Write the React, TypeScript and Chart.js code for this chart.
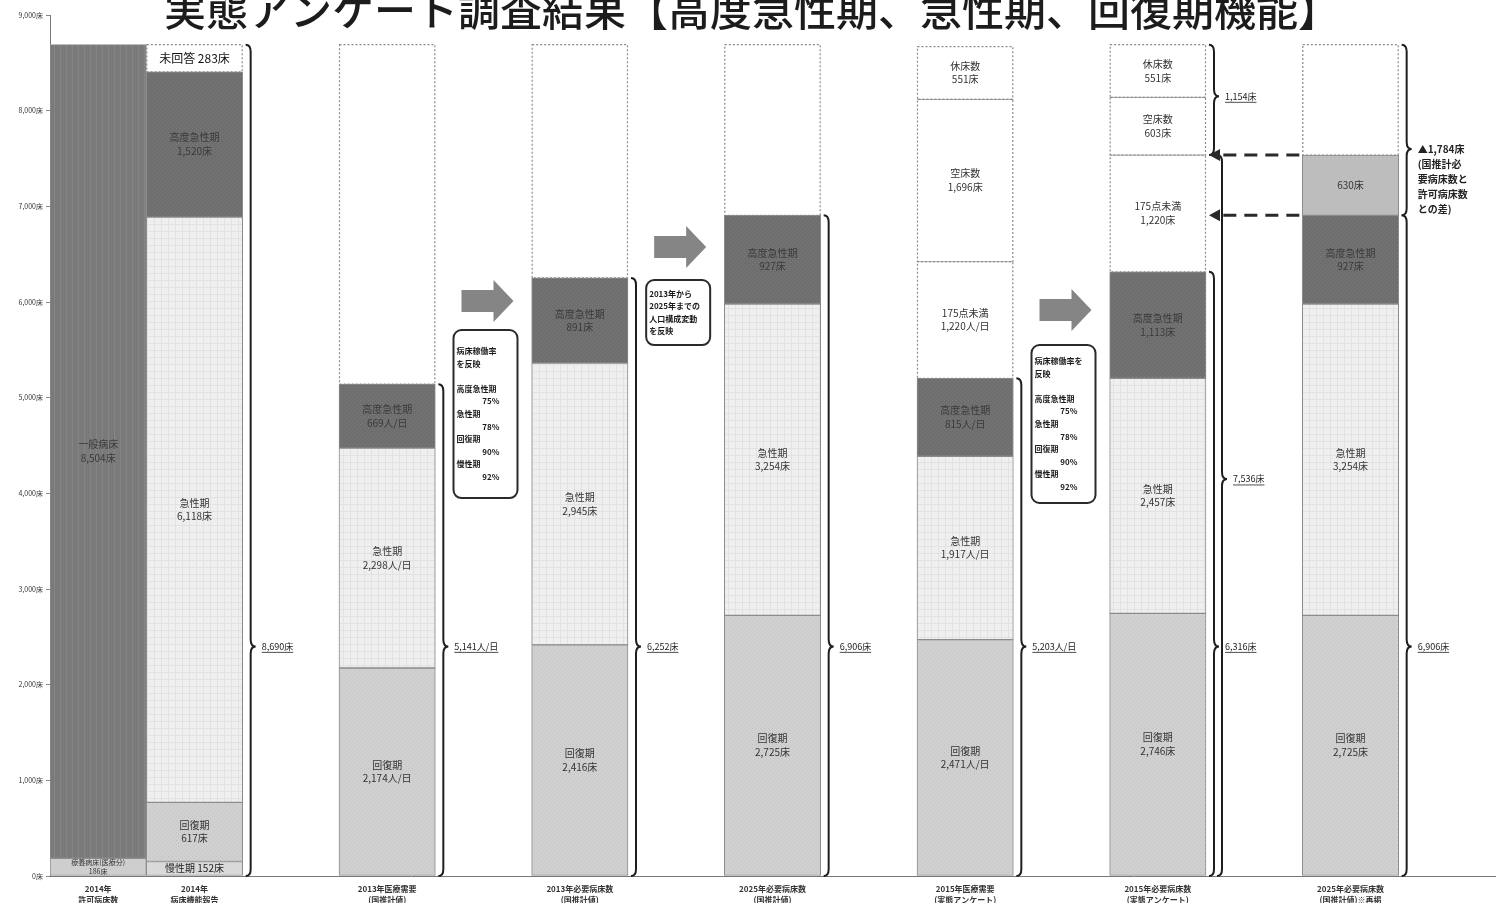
import React, { useEffect, useRef } from 'react';
import { Chart, registerables } from 'chart.js';

Chart.register(...registerables);

const FONT = '"Noto Sans CJK JP", "Noto Sans", sans-serif';

const title = '実態アンケート調査結果【高度急性期、急性期、回復期機能】';

const categories: string[][] = [
  ['2014年', '許可病床数'],
  ['2014年', '病床機能報告'],
  ['2013年医療需要', '(国推計値)'],
  ['2013年必要病床数', '(国推計値)'],
  ['2025年必要病床数', '(国推計値)'],
  ['2015年医療需要', '(実態アンケート)'],
  ['2015年必要病床数', '(実態アンケート)'],
  ['2025年必要病床数', '(国推計値)※再掲'],
];
const units = ['床', '床', '人/日', '床', '床', '人/日', '床', '床'];

const yMax = 9000;
const yStep = 1000;

// stacked segments, bottom to top
const ryoyoBeds = [186, null, null, null, null, null, null, null];
const ippanBeds = [8504, null, null, null, null, null, null, null];
const manseiBeds = [null, 152, null, null, null, null, null, null];
const kaifukuBeds = [null, 617, 2174, 2416, 2725, 2471, 2746, 2725];
const kyuseiBeds = [null, 6118, 2298, 2945, 3254, 1917, 2457, 3254];
const kodoBeds = [null, 1520, 669, 891, 927, 815, 1113, 927];
const diffBeds = [null, null, null, null, null, null, null, 630];
const under175 = [null, null, null, null, null, 1220, 1220, null];
const vacantBeds = [null, null, null, null, null, 1696, 603, null];
const closedBeds = [null, null, null, null, null, 551, 551, null];
const noAnswerBeds = [null, 283, null, null, null, null, null, null];
const remainderBeds = [null, null, 3549, 2438, 1784, null, null, 1154];

// braces (category, from, to, tip value, lane, label)
const braceCats = [1, 2, 3, 4, 5, 6, 6, 6, 7, 7];
const braceFrom = [0, 0, 0, 0, 0, 0, 0, 7536, 0, 6906];
const braceTo = [8690, 5141, 6252, 6906, 5203, 6316, 7536, 8690, 6906, 8690];
const braceTip = [2400, 2400, 2400, 2400, 2400, 2400, 4150, 8150, 2400, 7600];
const braceLanes = [0, 0, 0, 0, 0, 0, 1, 0, 0, 0];
const braceLabels = [
  '8,690床', '5,141人/日', '6,252床', '6,906床', '5,203人/日', '6,316床', '7,536床', '1,154床', '6,906床',
  '▲1,784床\n(国推計必\n要病床数と\n許可病床数\nとの差)',
];

const dashedLevels = [7536, 6906];

// block arrows & note boxes placed after category index
const arrowAfter = [2, 3, 5];
const arrowLevels = [6010, 6575, 5916];
const boxAfter = [2, 3, 5];
const boxTop = [5707, 6230, 5550];
const boxBottom = [3951, 5550, 3899];
const boxTexts = [
  ['病床稼働率', 'を反映', '', '高度急性期', '75%', '急性期', '78%', '回復期', '90%', '慢性期', '92%'],
  ['2013年から', '2025年までの', '人口構成変動', 'を反映'],
  ['病床稼働率を', '反映', '', '高度急性期', '75%', '急性期', '78%', '回復期', '90%', '慢性期', '92%'],
];

const fmt = (v: number) => v.toLocaleString('en-US');
const slotOf = (i: number) => (i < 2 ? i : 2 * i - 1);
function toSlots<T>(arr: T[], filler: T): T[] {
  const out: T[] = [];
  arr.forEach((v, i) => {
    if (i >= 2) out.push(filler);
    out.push(v);
  });
  out.push(filler);
  return out;
}

function makePattern(base: string, mark: string, size: number, kind: string) {
  const c = document.createElement('canvas');
  c.width = size;
  c.height = size;
  const g = c.getContext('2d')!;
  g.fillStyle = base;
  g.fillRect(0, 0, size, size);
  g.fillStyle = mark;
  if (kind === 'grid') {
    g.fillRect(0, 0, size, 1);
    g.fillRect(0, 0, 1, size);
  } else if (kind === 'dots') {
    g.fillRect(0, 0, 1, 1);
    g.fillRect(size / 2, size / 2, 1, 1);
  } else {
    g.fillRect(0, 0, 1, size);
  }
  return g.createPattern(c, 'repeat')!;
}

function drawBrace(ctx: CanvasRenderingContext2D, x: number, yTop: number, yBot: number, yTip: number, w: number) {
  const r = 7;
  const xm = x + w / 2;
  ctx.beginPath();
  ctx.moveTo(x, yTop);
  ctx.quadraticCurveTo(xm, yTop, xm, yTop + r);
  ctx.lineTo(xm, yTip - r);
  ctx.quadraticCurveTo(xm, yTip, x + w, yTip);
  ctx.quadraticCurveTo(xm, yTip, xm, yTip + r);
  ctx.lineTo(xm, yBot - r);
  ctx.quadraticCurveTo(xm, yBot, x, yBot);
  ctx.stroke();
}

export default function App() {
  const ref = useRef<HTMLCanvasElement>(null);

  useEffect(() => {
    const canvas = ref.current!;
    const patIppan = makePattern('#7a7a7a', '#858585', 6, 'vlines');
    const patKodo = makePattern('#6e6e6e', '#7c7c7c', 4, 'dots');
    const patKyusei = makePattern('#efefef', '#e2e2e2', 7, 'grid');
    const patKaifuku = makePattern('#d0d0d0', '#c3c3c3', 4, 'dots');

    type Spec = {
      data: (number | null)[];
      fill: any;
      dotted: boolean;
      text: ((v: number, i: number) => string) | null;
      color: string;
      size: number;
    };
    const specs: Spec[] = [
      { data: ryoyoBeds, fill: '#cecece', dotted: false, text: (v) => `療養病床(医療分)\n${fmt(v)}床`, color: '#333', size: 7 },
      { data: ippanBeds, fill: patIppan, dotted: false, text: (v) => `一般病床\n${fmt(v)}床`, color: '#3a3a3a', size: 10 },
      { data: manseiBeds, fill: '#d9d9d9', dotted: false, text: (v) => `慢性期 ${fmt(v)}床`, color: '#222', size: 10 },
      { data: kaifukuBeds, fill: patKaifuku, dotted: false, text: (v, i) => `回復期\n${fmt(v)}${units[i]}`, color: '#333', size: 10 },
      { data: kyuseiBeds, fill: patKyusei, dotted: false, text: (v, i) => `急性期\n${fmt(v)}${units[i]}`, color: '#333', size: 10 },
      { data: kodoBeds, fill: patKodo, dotted: false, text: (v, i) => `高度急性期\n${fmt(v)}${units[i]}`, color: '#3a3a3a', size: 10 },
      { data: diffBeds, fill: '#bdbdbd', dotted: false, text: (v) => `${fmt(v)}床`, color: '#333', size: 10 },
      { data: under175, fill: '#ffffff', dotted: true, text: (v, i) => `175点未満\n${fmt(v)}${units[i]}`, color: '#333', size: 10 },
      { data: vacantBeds, fill: '#ffffff', dotted: true, text: (v) => `空床数\n${fmt(v)}床`, color: '#333', size: 10 },
      { data: closedBeds, fill: '#ffffff', dotted: true, text: (v) => `休床数\n${fmt(v)}床`, color: '#333', size: 10 },
      { data: noAnswerBeds, fill: '#ffffff', dotted: true, text: (v) => `未回答 ${fmt(v)}床`, color: '#111', size: 12 },
      { data: remainderBeds, fill: '#ffffff', dotted: true, text: null, color: '#333', size: 10 },
    ];

    const annot = {
      id: 'annot',
      afterDatasetsDraw(chart: any) {
        const ctx: CanvasRenderingContext2D = chart.ctx;
        const xs = chart.scales.x;
        const ys = chart.scales.y;
        const halfW = (xs.getPixelForValue(1) - xs.getPixelForValue(0)) / 2;
        ctx.save();

        // dotted outlines + segment labels
        specs.forEach((s, d) => {
          const meta = chart.getDatasetMeta(d);
          meta.data.forEach((el: any, j: number) => {
            const raw = chart.data.datasets[d].data[j];
            if (raw == null) return;
            const p = el.getProps(['x', 'y', 'base', 'width'], true);
            if (s.dotted) {
              ctx.save();
              ctx.setLineDash([2, 2]);
              ctx.strokeStyle = '#8a8a8a';
              ctx.lineWidth = 1.2;
              ctx.strokeRect(p.x - p.width / 2 + 0.5, p.y, p.width - 1, p.base - p.y);
              ctx.restore();
            }
            if (s.text) {
              const cat = j < 2 ? j : (j + 1) / 2;
              const lines = s.text(raw, cat).split('\n');
              const lh = s.size * 1.35;
              const cy = (p.y + p.base) / 2;
              ctx.fillStyle = s.color;
              ctx.font = `${s.size}px ${FONT}`;
              ctx.textAlign = 'center';
              ctx.textBaseline = 'middle';
              lines.forEach((ln, k) => {
                ctx.fillText(ln, p.x, cy + (k - (lines.length - 1) / 2) * lh);
              });
            }
          });
        });

        // braces
        ctx.strokeStyle = '#1e1e1e';
        ctx.lineWidth = 2;
        braceCats.forEach((c, k) => {
          const x = xs.getPixelForValue(slotOf(c)) + halfW + 3 + braceLanes[k] * 8;
          const yT = ys.getPixelForValue(braceTo[k]);
          const yB = ys.getPixelForValue(braceFrom[k]);
          const yTip = ys.getPixelForValue(braceTip[k]);
          drawBrace(ctx, x, yT, yB, yTip, 10);
          const lx = x + 16;
          const lines = braceLabels[k].split('\n');
          ctx.fillStyle = '#222';
          ctx.textAlign = 'left';
          ctx.textBaseline = 'middle';
          if (lines.length > 1) {
            ctx.font = `bold 10px ${FONT}`;
            lines.forEach((ln, i) => ctx.fillText(ln, lx, yTip + i * 15));
          } else {
            ctx.font = `9px ${FONT}`;
            ctx.fillText(lines[0], lx, yTip);
            const w = ctx.measureText(lines[0]).width;
            ctx.save();
            ctx.lineWidth = 0.8;
            ctx.strokeStyle = '#222';
            ctx.beginPath();
            ctx.moveTo(lx, yTip + 6);
            ctx.lineTo(lx + w, yTip + 6);
            ctx.stroke();
            ctx.restore();
          }
        });

        // dashed arrows between bar 7 and bar 8
        const left = xs.getPixelForValue(slotOf(6)) + halfW + 3;
        const right = xs.getPixelForValue(slotOf(7)) - halfW - 3;
        dashedLevels.forEach((v) => {
          const y = ys.getPixelForValue(v);
          ctx.save();
          ctx.strokeStyle = '#2a2a2a';
          ctx.lineWidth = 3;
          ctx.setLineDash([13, 8]);
          ctx.beginPath();
          ctx.moveTo(right, y);
          ctx.lineTo(left + 12, y);
          ctx.stroke();
          ctx.restore();
          ctx.fillStyle = '#2a2a2a';
          ctx.beginPath();
          ctx.moveTo(left, y);
          ctx.lineTo(left + 11, y - 6);
          ctx.lineTo(left + 11, y + 6);
          ctx.closePath();
          ctx.fill();
        });

        // block arrows
        arrowAfter.forEach((c, k) => {
          const cx = xs.getPixelForValue(slotOf(c) + 1) + 4;
          const cy = ys.getPixelForValue(arrowLevels[k]);
          const w = 52;
          const x0 = cx - w / 2;
          const x1 = cx + w / 2;
          const xh = x1 - 20;
          ctx.beginPath();
          ctx.moveTo(x0, cy - 11);
          ctx.lineTo(xh, cy - 11);
          ctx.lineTo(xh, cy - 21);
          ctx.lineTo(x1, cy);
          ctx.lineTo(xh, cy + 21);
          ctx.lineTo(xh, cy + 11);
          ctx.lineTo(x0, cy + 11);
          ctx.closePath();
          ctx.fillStyle = '#858585';
          ctx.fill();
        });

        // note boxes
        boxAfter.forEach((c, k) => {
          const cx = xs.getPixelForValue(slotOf(c) + 1) + 2;
          const w = 64;
          const top = ys.getPixelForValue(boxTop[k]);
          const bot = ys.getPixelForValue(boxBottom[k]);
          ctx.save();
          ctx.fillStyle = '#ffffff';
          ctx.strokeStyle = '#2a2a2a';
          ctx.lineWidth = 2;
          ctx.beginPath();
          (ctx as any).roundRect(cx - w / 2, top, w, bot - top, 8);
          ctx.fill();
          ctx.stroke();
          ctx.restore();
          const lines = boxTexts[k];
          const lh = 12.6;
          const startY = (top + bot) / 2 - ((lines.length - 1) * lh) / 2;
          ctx.font = `bold 8px ${FONT}`;
          ctx.fillStyle = '#1a1a1a';
          ctx.textBaseline = 'middle';
          lines.forEach((ln, i) => {
            if (!ln) return;
            if (ln.endsWith('%')) {
              ctx.textAlign = 'right';
              ctx.fillText(ln, cx + w / 2 - 18, startY + i * lh);
            } else {
              ctx.textAlign = 'left';
              ctx.fillText(ln, cx - w / 2 + 3, startY + i * lh);
            }
          });
        });

        ctx.restore();
      },
      afterDraw(chart: any) {
        const ctx: CanvasRenderingContext2D = chart.ctx;
        ctx.save();
        ctx.font = `500 42px ${FONT}`;
        ctx.fillStyle = '#1c1c1c';
        ctx.textAlign = 'center';
        ctx.textBaseline = 'alphabetic';
        ctx.fillText(title, 752, 26);
        ctx.restore();
      },
    };

    const chart = new Chart(canvas, {
      type: 'bar',
      data: {
        labels: toSlots<string[] | string>(categories, ''),
        datasets: specs.map((s, d) => ({
          label: `s${d}`,
          data: toSlots<number | null>(s.data, null),
          backgroundColor: s.fill,
          borderColor: s.dotted ? 'rgba(0,0,0,0)' : '#8c8c8c',
          borderWidth: s.dotted ? 0 : 1,
          borderSkipped: false,
          stack: 'a',
          barPercentage: 1,
          categoryPercentage: 1,
        })),
      },
      options: {
        responsive: true,
        maintainAspectRatio: false,
        animation: false,
        layout: { padding: { top: 15, right: 2, left: 0, bottom: 0 } },
        plugins: { legend: { display: false }, tooltip: { enabled: false }, title: { display: false } },
        scales: {
          x: {
            stacked: true,
            grid: { display: false },
            border: { display: true, color: '#777', width: 1 },
            ticks: {
              autoSkip: false,
              maxRotation: 0,
              minRotation: 0,
              padding: 0,
              color: '#333',
              font: { family: FONT, size: 8, weight: 'bold', lineHeight: 1.3 },
            },
            afterFit: (s: any) => {
              s.height = 27;
            },
          },
          y: {
            stacked: true,
            min: 0,
            max: yMax,
            ticks: {
              stepSize: yStep,
              callback: (v: any) => `${fmt(Number(v))}床`,
              color: '#333',
              font: { family: FONT, size: 7 },
              padding: 3,
            },
            grid: { drawOnChartArea: false, drawTicks: true, tickLength: 4, color: '#888' },
            border: { display: true, color: '#777' },
            afterFit: (s: any) => {
              s.width = 50;
            },
          },
        },
      } as any,
      plugins: [annot],
    });

    return () => chart.destroy();
  }, []);

  return (
    <div style={{ position: 'fixed', left: 0, top: 0, width: 1497, height: 903, background: '#fff' }}>
      <canvas ref={ref} />
    </div>
  );
}
